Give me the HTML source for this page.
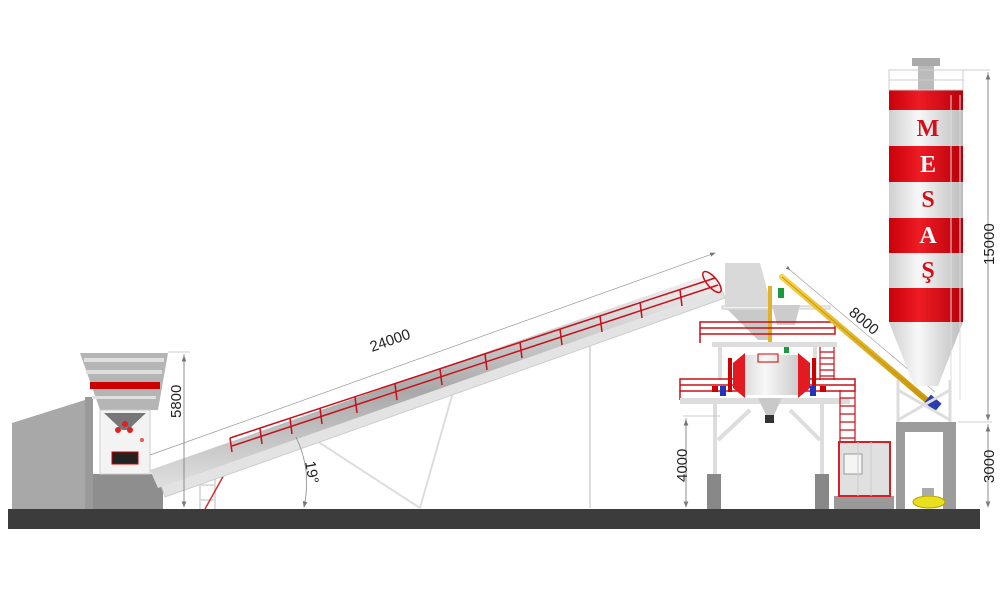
<!DOCTYPE html>
<html><head><style>html,body{margin:0;padding:0;background:#fff}svg{display:block}</style></head>
<body>
<svg width="1000" height="600" viewBox="0 0 1000 600" xmlns="http://www.w3.org/2000/svg" font-family="Liberation Sans, sans-serif">
<defs>
<linearGradient id="tube" x1="0" y1="0" x2="0" y2="1"><stop offset="0" stop-color="#f4f4f4"/><stop offset="0.55" stop-color="#a9a9a9"/><stop offset="1" stop-color="#e0e0e0"/></linearGradient>
<linearGradient id="cyl" x1="0" y1="0" x2="1" y2="0"><stop offset="0" stop-color="#cfcfcf"/><stop offset="0.4" stop-color="#f8f8f8"/><stop offset="1" stop-color="#bcbcbc"/></linearGradient>
<linearGradient id="red" x1="0" y1="0" x2="1" y2="0"><stop offset="0" stop-color="#c8000a"/><stop offset="0.4" stop-color="#ee1c24"/><stop offset="1" stop-color="#b8000a"/></linearGradient>
<linearGradient id="yel" x1="0" y1="0" x2="0" y2="1"><stop offset="0" stop-color="#f7d24a"/><stop offset="1" stop-color="#c9970a"/></linearGradient>
<marker id="ar" markerWidth="8" markerHeight="8" refX="7" refY="4" orient="auto"><path d="M0,1 L8,4 L0,7z" fill="#777"/></marker>
</defs>

<rect x="8" y="509" width="972" height="20" fill="#3c3c3c"/>

<polygon points="12,423 85,400 85,509 12,509" fill="#a8a8a8"/>
<rect x="85" y="397" width="8" height="112" fill="#9a9a9a"/>
<rect x="93" y="474" width="70" height="35" fill="#8e8e8e"/>
<polygon points="80,353 168,353 158,410 100,410" fill="#b5b5b5"/>
<rect x="84" y="358" width="80" height="4" fill="#e0e0e0"/>
<rect x="86" y="370" width="76" height="4" fill="#dedede"/>
<rect x="90" y="382" width="70" height="7" fill="#c00"/>
<rect x="92" y="396" width="64" height="3" fill="#e0e0e0"/>
<rect x="100" y="410" width="50" height="64" fill="#f3f3f3" stroke="#ccc"/>
<polygon points="104,413 146,413 128,430 122,430" fill="#777"/>
<circle cx="118" cy="430" r="3" fill="#d22"/><circle cx="130" cy="430" r="3" fill="#d22"/><circle cx="125" cy="424" r="3" fill="#d22"/>
<rect x="112" y="452" width="26" height="12" fill="#222" stroke="#c00"/>
<circle cx="142" cy="440" r="2" fill="#e55"/>

<g stroke="#ddd" stroke-width="2" fill="none">
<line x1="200" y1="470" x2="200" y2="509"/><line x1="215" y1="465" x2="215" y2="509"/>
<line x1="200" y1="485" x2="215" y2="485"/><line x1="200" y1="500" x2="215" y2="500"/>
<line x1="300" y1="430" x2="420" y2="508"/><line x1="455" y1="385" x2="420" y2="508"/>
<line x1="590" y1="340" x2="590" y2="508"/>
</g>
<line x1="235" y1="455" x2="205" y2="509" stroke="#c33" stroke-width="1.5"/>
<polygon points="160,482 720,285 725,298 165,497" fill="#e3e3e3" stroke="#ccc"/>
<polygon points="150,470 712,273 720,290 158,488" fill="url(#tube)"/>
<g stroke="#c8101a" stroke-width="1.5" fill="none">
<line x1="230" y1="438" x2="715" y2="278"/>
<line x1="232" y1="446" x2="718" y2="285"/>
<path d="M230,438 L232,452 M260,428 L262,444 M290,418 L292,434 M320,408 L322,424 M355,397 L357,413 M395,384 L397,400 M440,369 L442,385 M485,354 L487,370 M520,342 L522,358 M560,329 L562,345 M600,316 L602,332 M640,302 L642,318 M680,290 L682,306"/>
<ellipse cx="712" cy="282" rx="5" ry="13" transform="rotate(-40 712 282)"/>
</g>
<line x1="150" y1="455" x2="715" y2="253" stroke="#999" stroke-width="0.7" marker-end="url(#ar)"/>
<text x="0" y="0" font-size="15" fill="#222" transform="translate(372,352) rotate(-19.5)">24000</text>
<line x1="168" y1="352" x2="190" y2="352" stroke="#bbb" stroke-width="0.7"/>
<line x1="184" y1="354" x2="184" y2="507" stroke="#888" stroke-width="0.8" marker-end="url(#ar)"/>
<line x1="184" y1="507" x2="184" y2="356" stroke="#888" stroke-width="0.8" marker-end="url(#ar)"/>
<text transform="translate(181,418) rotate(-90)" font-size="15" fill="#222">5800</text>
<path d="M296,437 Q312,470 304,507" stroke="#888" fill="none" stroke-width="0.8" marker-end="url(#ar)"/>
<text transform="translate(305,462) rotate(80)" font-size="15" fill="#222">19°</text>

<g stroke="#ddd" stroke-width="4" fill="none">
<line x1="715" y1="400" x2="715" y2="478"/><line x1="822" y1="400" x2="822" y2="478"/>
<line x1="718" y1="440" x2="750" y2="410"/><line x1="820" y1="440" x2="790" y2="410"/>
<line x1="720" y1="345" x2="720" y2="380"/><line x1="815" y1="345" x2="815" y2="380"/>
</g>
<rect x="707" y="474" width="14" height="35" fill="#888"/>
<rect x="815" y="474" width="14" height="35" fill="#888"/>
<polygon points="725,263 760,263 770,300 770,310 725,310" fill="#d9d9d9"/>
<polygon points="728,310 770,310 770,340 758,340" fill="#c9c9c9"/>
<rect x="722" y="306" width="108" height="3" fill="#eee" stroke="#ccc"/>
<polygon points="772,305 800,305 795,325 777,325" fill="#ccc"/>
<rect x="768" y="286" width="4" height="60" fill="#e3b22c"/>
<rect x="778" y="288" width="6" height="10" fill="#1c9a3a"/>
<rect x="784" y="346" width="5" height="7" fill="#1c9a3a"/>
<g stroke="#c8101a" stroke-width="1.5" fill="none">
<rect x="700" y="322" width="135" height="12"/>
<line x1="700" y1="328" x2="835" y2="328"/>
<line x1="700" y1="334" x2="700" y2="343"/>
<rect x="680" y="379" width="175" height="12"/>
<line x1="680" y1="385" x2="855" y2="385"/>
<line x1="680" y1="391" x2="680" y2="400"/>
</g>
<rect x="712" y="342" width="125" height="5" fill="#ddd"/>
<rect x="680" y="398" width="170" height="6" fill="#ddd"/>
<g stroke="#c8101a" stroke-width="1.2" fill="none">
<line x1="820" y1="347" x2="820" y2="380"/><line x1="834" y1="347" x2="834" y2="380"/>
<path d="M820,352h14M820,358h14M820,364h14M820,370h14M820,376h14"/>
<line x1="840" y1="390" x2="840" y2="442"/><line x1="855" y1="390" x2="855" y2="442"/>
<path d="M840,398h15M840,406h15M840,414h15M840,422h15M840,430h15M840,438h15"/>
</g>
<polygon points="745,355 800,355 810,372 800,395 745,395 735,372" fill="url(#cyl)"/>
<polygon points="745,353 733,363 733,388 745,398" fill="#e21b22"/>
<polygon points="798,353 810,363 810,388 798,398" fill="#e21b22"/>
<rect x="728" y="358" width="4" height="34" fill="#c00"/>
<rect x="812" y="358" width="4" height="34" fill="#c00"/>
<rect x="758" y="354" width="20" height="8" fill="none" stroke="#c00"/>
<polygon points="758,398 782,398 774,415 766,415" fill="#c9c9c9"/>
<rect x="765" y="415" width="9" height="8" fill="#333"/>
<rect x="720" y="386" width="6" height="10" fill="#2233bb"/>
<rect x="712" y="386" width="6" height="6" fill="#c00"/>
<rect x="810" y="386" width="6" height="10" fill="#2233bb"/>
<rect x="820" y="386" width="6" height="6" fill="#c00"/>
<line x1="683" y1="416" x2="720" y2="416" stroke="#bbb" stroke-width="0.7"/>
<line x1="686" y1="418" x2="686" y2="507" stroke="#888" stroke-width="0.8" marker-end="url(#ar)"/>
<line x1="686" y1="507" x2="686" y2="420" stroke="#888" stroke-width="0.8" marker-end="url(#ar)"/>
<text transform="translate(687,482) rotate(-90)" font-size="15" fill="#222">4000</text>

<rect x="834" y="496" width="60" height="13" fill="#999"/>
<rect x="839" y="442" width="51" height="54" fill="#e0e0e0" stroke="#d51f26" stroke-width="2"/>
<rect x="844" y="454" width="18" height="20" fill="#f5f5f5" stroke="#999"/>
<line x1="858" y1="442" x2="858" y2="496" stroke="#ccc"/><line x1="871" y1="442" x2="871" y2="496" stroke="#ccc"/>

<line x1="782" y1="277" x2="930" y2="403" stroke="url(#yel)" stroke-width="6" stroke-linecap="round"/>
<line x1="782" y1="277" x2="930" y2="403" stroke="#c9960a" stroke-width="1"/>
<rect x="926" y="398" width="14" height="10" fill="#2a3cb0" transform="rotate(40 933 403)"/>
<line x1="790" y1="270" x2="935" y2="392" stroke="#999" stroke-width="0.6" marker-start="url(#ar)"/>
<text transform="translate(848,314) rotate(40)" font-size="15" fill="#222">8000</text>

<g stroke="#ddd" stroke-width="3">
<line x1="898" y1="380" x2="898" y2="422"/><line x1="950" y1="380" x2="950" y2="422"/>
<line x1="898" y1="390" x2="950" y2="420"/><line x1="950" y1="390" x2="898" y2="420"/>
</g>
<polygon points="889,322 963,322 938,386 914,386" fill="url(#cyl)"/>
<rect x="896" y="422" width="60" height="87" fill="#9c9c9c"/>
<rect x="905" y="432" width="38" height="77" fill="#fff"/>
<ellipse cx="929" cy="502" rx="16" ry="6" fill="#e6e01f" stroke="#b8a000"/>
<rect x="922" y="488" width="12" height="8" fill="#aaa"/>
<rect x="889" y="90" width="74" height="232" fill="url(#cyl)"/>
<rect x="889" y="90" width="74" height="20" fill="url(#red)"/>
<rect x="889" y="146" width="74" height="36" fill="url(#red)"/>
<rect x="889" y="218" width="74" height="35" fill="url(#red)"/>
<rect x="889" y="288" width="74" height="34" fill="url(#red)"/>
<rect x="912" y="58" width="28" height="8" fill="#aaa"/><rect x="918" y="66" width="16" height="24" fill="#bbb"/>
<g stroke="#ccc" stroke-width="1" fill="none"><rect x="889" y="70" width="74" height="20"/><line x1="889" y1="80" x2="963" y2="80"/></g>
<g stroke="#ddd" stroke-width="1"><line x1="951" y1="95" x2="951" y2="400"/><line x1="960" y1="95" x2="960" y2="400"/></g>
<g font-family="Liberation Serif, serif" font-weight="bold" font-size="24" text-anchor="middle">
<text x="928" y="136" fill="#d0101a">M</text>
<text x="928" y="172" fill="#fff">E</text>
<text x="928" y="207" fill="#d0101a">S</text>
<text x="928" y="243" fill="#fff">A</text>
<text x="928" y="278" fill="#d0101a">Ş</text>
</g>
<line x1="963" y1="70" x2="990" y2="70" stroke="#bbb" stroke-width="0.7"/>
<line x1="958" y1="422" x2="992" y2="422" stroke="#bbb" stroke-width="0.7"/>
<line x1="988" y1="72" x2="988" y2="420" stroke="#888" stroke-width="0.8" marker-end="url(#ar)"/>
<line x1="988" y1="420" x2="988" y2="74" stroke="#888" stroke-width="0.8" marker-end="url(#ar)"/>
<text transform="translate(994,265) rotate(-90)" font-size="15" fill="#222">15000</text>
<line x1="988" y1="424" x2="988" y2="507" stroke="#888" stroke-width="0.8" marker-end="url(#ar)"/>
<line x1="988" y1="507" x2="988" y2="426" stroke="#888" stroke-width="0.8" marker-end="url(#ar)"/>
<text transform="translate(994,483) rotate(-90)" font-size="15" fill="#222">3000</text>
</svg>
</body></html>
